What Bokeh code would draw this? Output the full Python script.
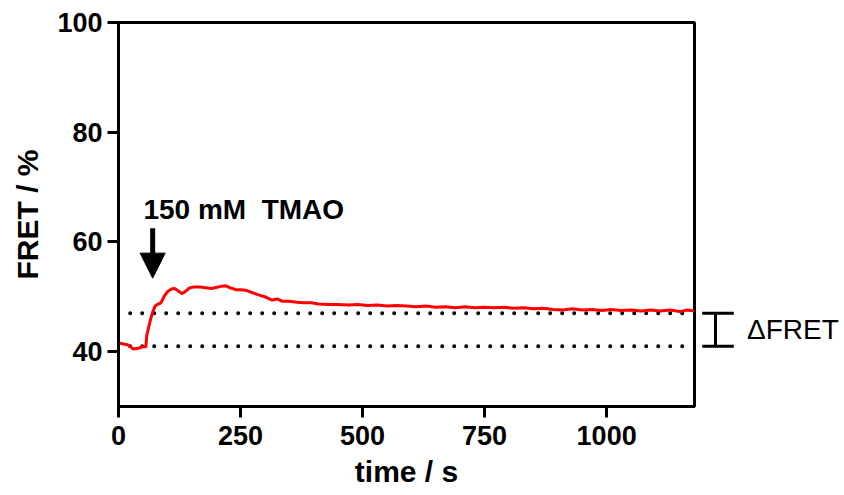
from bokeh.plotting import figure
from bokeh.models import Range1d, FixedTicker, Arrow, NormalHead
from bokeh.layouts import row
from bokeh.core.properties import value
from bokeh.embed import file_html
from bokeh.resources import INLINE

# ---- data ----
time_s = [0, 10, 20, 30, 40, 50, 56, 58, 62, 66, 70, 75, 80, 87, 93, 100, 108, 115,
          122, 130, 136, 145, 155, 165, 175, 190, 200, 210, 220, 230, 240, 250, 260,
          270, 285, 300, 315, 325, 335, 350, 365, 380, 395, 410, 430, 450, 470, 490,
          510, 530, 550, 570, 590, 610, 630, 650, 670, 690, 710, 730, 750, 770, 790,
          810, 830, 850, 870, 890, 910, 930, 950, 970, 990, 1010, 1030, 1050, 1070,
          1090, 1110, 1130, 1150, 1165, 1180]
fret_pct = [41.6, 41.4, 41.2, 40.5, 40.6, 40.9, 40.9, 43.0, 44.5, 46.0, 47.2, 48.3, 48.6,
            48.9, 50.0, 50.9, 51.4, 51.5, 51.1, 50.6, 50.9, 51.6, 51.8, 51.8, 51.7, 51.5,
            51.7, 51.9, 52.0, 51.6, 51.3, 51.3, 51.2, 50.9, 50.4, 50.0, 49.4, 49.6, 49.2,
            49.2, 49.0, 48.9, 48.9, 48.7, 48.6, 48.6, 48.5, 48.6, 48.4, 48.5, 48.3, 48.4,
            48.3, 48.2, 48.3, 48.1, 48.2, 48.0, 48.2, 48.0, 48.1, 48.0, 48.1, 47.9, 48.0,
            47.8, 47.9, 47.7, 47.6, 47.8, 47.6, 47.7, 47.5, 47.7, 47.5, 47.6, 47.4, 47.6,
            47.4, 47.6, 47.3, 47.6, 47.4]
baseline_before = 41.0
baseline_after = 47.0
ref_line_start = 24
ref_line_end = 1162
arrow_time = 70
arrow_top = 62.5
arrow_tip = 53.4
annot_x = 51
annot_y = 66.0
annot_text = "150 mM\u00a0 TMAO"
x_ticks = [0, 250, 500, 750, 1000]
y_ticks = [40, 60, 80, 100]
x_limits = (0, 1180)
y_limits = (30, 100)

FONT = "Liberation Sans"

yr = Range1d(*y_limits)
p = figure(width=696, height=495, x_range=Range1d(*x_limits), y_range=yr,
           output_backend="svg", toolbar_location=None,
           min_border_left=118, min_border_right=2, min_border_top=22, min_border_bottom=89)
p.background_fill_color = "white"
p.border_fill_color = "white"
p.outline_line_color = "black"
p.outline_line_width = 3
p.grid.visible = False

for ax in (p.xaxis[0], p.yaxis[0]):
    ax.axis_line_width = 3
    ax.axis_line_color = "black"
    ax.major_tick_line_width = 3
    ax.major_tick_line_color = "black"
    ax.major_tick_out = 11
    ax.major_tick_in = 0
    ax.minor_tick_line_color = None
    ax.major_label_text_font = FONT
    ax.major_label_text_font_style = "bold"
    ax.major_label_text_font_size = "27px"
    ax.major_label_text_color = "black"
    ax.axis_label_text_font = FONT
    ax.axis_label_text_font_style = "bold"
    ax.axis_label_text_font_size = "30px"
    ax.axis_label_text_color = "black"

p.xaxis.ticker = FixedTicker(ticks=x_ticks)
p.yaxis.ticker = FixedTicker(ticks=y_ticks)
p.xaxis.axis_label = "time / s"
p.yaxis.axis_label = "FRET / %"
p.xaxis.major_label_standoff = 8
p.yaxis.major_label_standoff = 5
p.xaxis.axis_label_standoff = 7
p.yaxis.axis_label_standoff = 10

# dotted reference lines
for yv in (baseline_before, baseline_after):
    p.line([ref_line_start, ref_line_end], [yv, yv], line_color="black", line_width=4,
           line_dash="0 12", line_cap="round")

# trace
p.line(time_s, fret_pct, line_color="#ff0000", line_width=3, line_join="round")

# annotation
p.add_layout(Arrow(x_start=arrow_time, y_start=arrow_top, x_end=arrow_time, y_end=arrow_tip,
                   line_width=5, line_color="black",
                   end=NormalHead(size=25, fill_color="black", line_color="black", line_width=1)))
p.text(x=[annot_x], y=[annot_y], text=[annot_text], text_font=value(FONT),
       text_font_style="bold", text_font_size="28px", text_color="black",
       text_baseline="alphabetic", text_align="left")

# side panel with delta FRET bracket
p2 = figure(width=148, height=495, x_range=Range1d(0, 148), y_range=yr,
            output_backend="svg", toolbar_location=None,
            x_axis_type=None, y_axis_type=None,
            min_border_left=0, min_border_right=0, min_border_top=22, min_border_bottom=89)
p2.outline_line_color = None
p2.grid.visible = False
p2.background_fill_color = "white"
p2.border_fill_color = "white"
p2.segment(x0=[19, 5.7, 5.7], y0=[baseline_before, baseline_before, baseline_after],
           x1=[19, 37.3, 37.3], y1=[baseline_after, baseline_before, baseline_after],
           line_color="black", line_width=3)
p2.text(x=[50.5], y=[(baseline_before + baseline_after) / 2], text=["\u0394FRET"],
        text_font=value(FONT), text_font_size="28px", text_color="black",
        text_baseline="middle", text_align="left")

layout = row(p, p2)
open("out.html", "w").write(file_html(layout, INLINE))
